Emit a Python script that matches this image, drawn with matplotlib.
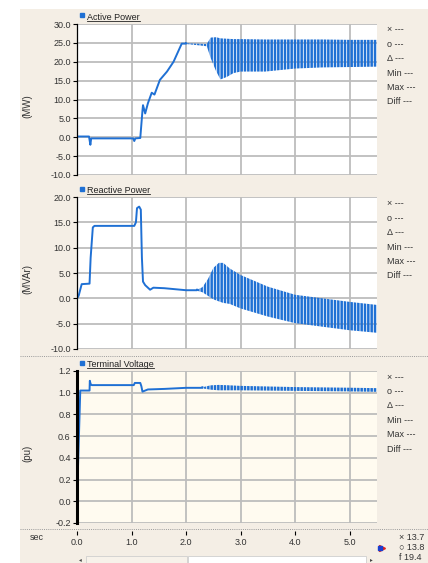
import matplotlib
matplotlib.use('Agg')
import matplotlib.pyplot as plt
from matplotlib.lines import Line2D
from matplotlib.patches import Rectangle

# ---- data (time in s) ----
# Active Power (MW): slow trace, then the oscillating band (upper / lower envelope)
p_t = [0, 0.22, 0.245, 0.26, 0.30, 1.03, 1.05, 1.07, 1.16, 1.20, 1.21, 1.25, 1.30,
       1.37, 1.42, 1.52, 1.65, 1.77, 1.92, 2.00]
p_v = [0.2, 0.2, -2.0, -0.3, -0.3, -0.3, -1.0, -0.3, -0.2, 7.0, 8.5, 6.3, 9.0,
       11.8, 11.3, 15.2, 17.4, 20.0, 24.8, 24.8]
p_band_t = [2.00, 2.20, 2.38, 2.45, 2.55, 2.63, 2.75, 2.87, 3.00, 3.45, 4.00, 4.50, 5.00, 5.50]
p_band_hi = [24.9, 24.8, 24.7, 26.4, 26.5, 26.2, 26.1, 26.0, 26.0, 25.9, 25.9, 25.9, 25.8, 25.8]
p_band_lo = [24.7, 24.4, 24.1, 21.0, 17.5, 15.3, 16.0, 17.0, 17.4, 17.4, 18.2, 18.5, 18.6, 18.7]

# Reactive Power (MVAr)
q_t = [0, 0.03, 0.086, 0.23, 0.25, 0.29, 0.32, 1.05, 1.08, 1.10, 1.14, 1.17, 1.19,
       1.21, 1.25, 1.34, 1.40, 1.60, 1.80, 2.00, 2.20]
q_v = [0, 0.5, 2.8, 2.9, 8.0, 14.0, 14.3, 14.3, 15.0, 17.8, 18.1, 17.5, 8.0,
       3.3, 2.6, 1.7, 2.1, 2.0, 1.8, 1.6, 1.6]
q_band_t = [2.20, 2.30, 2.40, 2.50, 2.60, 2.68, 2.80, 3.00, 3.50, 4.00, 4.50, 5.00, 5.50]
q_band_hi = [1.7, 2.2, 3.8, 6.0, 7.0, 7.0, 5.9, 4.6, 2.3, 0.7, 0.0, -0.7, -1.3]
q_band_lo = [1.5, 1.2, 0.5, -0.2, -0.6, -0.9, -1.1, -2.0, -3.6, -4.9, -5.6, -6.3, -6.8]

# Terminal Voltage (pu)
v_t = [0, 0.06, 0.23, 0.235, 0.25, 0.27, 1.04, 1.06, 1.16, 1.18, 1.20, 1.30, 1.60, 2.00, 2.30]
v_v = [0.0, 1.02, 1.02, 1.11, 1.08, 1.07, 1.07, 1.09, 1.09, 1.06, 1.01, 1.03, 1.035, 1.045, 1.045]
v_band_t = [2.30, 2.45, 2.60, 2.80, 3.00, 4.00, 5.00, 5.50]
v_band_hi = [1.05, 1.068, 1.072, 1.068, 1.063, 1.052, 1.046, 1.042]
v_band_lo = [1.04, 1.028, 1.022, 1.022, 1.022, 1.017, 1.012, 1.008]

x_ticks = [0, 1, 2, 3, 4, 5]
p_ticks = [-10, -5, 0, 5, 10, 15, 20, 25, 30]
q_ticks = [-10, -5, 0, 5, 10, 15, 20]
v_ticks = [-0.2, 0.0, 0.2, 0.4, 0.6, 0.8, 1.0, 1.2]
side_labels = ['\u00d7', 'o', '\u0394', 'Min', 'Max', 'Diff']
cursor_labels = ['\u00d7 13.7', '\u25cb 13.8', 'f 19.4']

BLUE = '#1f70d4'
TXT = '#333333'
plt.rcParams['font.family'] = ['Liberation Sans', 'DejaVu Sans']
plt.rcParams['font.size'] = 6.5
plt.rcParams['hatch.linewidth'] = 1.8

W, H = 428, 563
fig = plt.figure(figsize=(W / 100, H / 100), dpi=100)
fig.patch.set_facecolor('white')


def fx(px):
    return px / W


def fy(py):
    return 1 - py / H


fig.add_artist(Rectangle((fx(20), 0), 1 - fx(20), fy(9), transform=fig.transFigure,
                         facecolor='#f4eee5', edgecolor='none', zorder=-5))


def panel(top, bottom, t, v, bt, bhi, blo, ticks, face, spine_w):
    ax = fig.add_axes([fx(77), fy(bottom), fx(300), (bottom - top) / H])
    ax.set_facecolor(face)
    ax.plot(t + [bt[0]], v + [bhi[0]], color=BLUE, lw=1.4, zorder=3)
    ax.fill_between(bt, blo, bhi, facecolor='none', edgecolor=BLUE, linewidth=0,
                    hatch='|||||', zorder=3)
    ax.set_xlim(0, 5.5)
    ax.set_ylim(ticks[0], ticks[-1])
    ax.set_yticks(ticks)
    ax.set_yticklabels([f'{k:.1f}' for k in ticks])
    ax.set_xticks(x_ticks)
    ax.set_xticklabels([f'{k:.1f}' for k in x_ticks])
    ax.grid(True, color='#bdbdbd', lw=1.3)
    ax.set_axisbelow(True)
    for s in ['top', 'right', 'bottom']:
        ax.spines[s].set_visible(False)
    ax.spines['left'].set_linewidth(spine_w)
    ax.spines['left'].set_zorder(4)
    ax.tick_params(axis='y', length=3, width=0.8, pad=1.5, labelcolor=TXT, labelsize=6.5)
    ax.tick_params(axis='x', length=0, labelbottom=False)
    return ax


ax1 = panel(24, 175, p_t, p_v, p_band_t, p_band_hi, p_band_lo, p_ticks, 'white', 0.9)
ax2 = panel(197, 349, q_t, q_v, q_band_t, q_band_hi, q_band_lo, q_ticks, 'white', 0.9)
ax3 = panel(371, 523, v_t, v_v, v_band_t, v_band_hi, v_band_lo, v_ticks, '#fffbf0', 2.2)
ax3.spines['bottom'].set_position(('outward', 6))
ax3.tick_params(axis='x', length=3, width=0.8, direction='out', labelbottom=True,
                pad=1.5, labelcolor=TXT, labelsize=6.5)

# panel titles with blue square and underline
titles = [('Active Power', 19.5), ('Reactive Power', 193), ('Terminal Voltage', 367)]
title_texts = []
for name, base in titles:
    fig.add_artist(Line2D([fx(81.5)], [fy(base - 4.5)], marker='s', markersize=3.3,
                          color=BLUE, transform=fig.transFigure))
    title_texts.append(fig.text(fx(87), fy(base), name, va='baseline', color='#222222'))

fig.canvas.draw()
inv = fig.transFigure.inverted()
for txt, (name, base) in zip(title_texts, titles):
    bb = txt.get_window_extent().transformed(inv)
    fig.add_artist(Line2D([bb.x0, bb.x1], [fy(base + 1.3)] * 2, color='#222222', lw=0.6,
                          transform=fig.transFigure))

# y labels
for lab, yc in [('(MW)', 106), ('(MVAr)', 279), ('(pu)', 453)]:
    fig.text(fx(27), fy(yc), lab, rotation=90, ha='center', va='center', color=TXT, fontsize=7)

# cursor readouts on the right of each panel
for y0 in [30, 204, 377]:
    for i, lab in enumerate(side_labels):
        fig.text(fx(387), fy(y0 + i * 14.4), lab + ' ---', va='center', color=TXT, fontsize=6.5)

# dotted separators
for yy in [356, 529]:
    fig.add_artist(Line2D([fx(20), 1], [fy(yy)] * 2, ls=(0, (1, 1.2)), color='#9a9a9a',
                          lw=0.7, transform=fig.transFigure))

fig.text(fx(30), fy(538), 'sec', va='center', color=TXT, fontsize=6.5)
for i, lab in enumerate(cursor_labels):
    fig.text(fx(399), fy(537 + i * 10.5), lab, va='center', color=TXT, fontsize=6.5)

# time-cursor marker
fig.add_artist(Line2D([fx(382)], [fy(548)], marker='>', markersize=5, color='#e0201c',
                      transform=fig.transFigure))
fig.add_artist(Line2D([fx(379.5)], [fy(548)], marker='s', markersize=2.6, color='#1a3fd0',
                      transform=fig.transFigure))

# scrollbar
fig.add_artist(Rectangle((fx(86), 0), fx(101), fy(556), transform=fig.transFigure,
                         facecolor='#f7f2ea', edgecolor='#cfcfcf', lw=0.6))
fig.add_artist(Rectangle((fx(188), 0), fx(178), fy(556), transform=fig.transFigure,
                         facecolor='white', edgecolor='#cfcfcf', lw=0.6))
fig.text(fx(80), fy(560), '\u25c2', ha='center', va='center', fontsize=4, color='#444444')
fig.text(fx(371), fy(560), '\u25b8', ha='center', va='center', fontsize=4, color='#444444')

fig.savefig('out.png', dpi=100)
